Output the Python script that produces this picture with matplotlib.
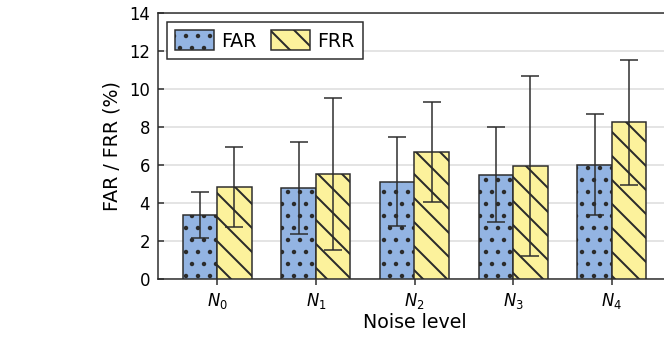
import numpy as np
import matplotlib
matplotlib.use('Agg')
import matplotlib.pyplot as plt

plt.rcParams['font.family'] = ['DejaVu Sans']
plt.rcParams['hatch.linewidth'] = 2.0

# data
levels = ['$N_0$', '$N_1$', '$N_2$', '$N_3$', '$N_4$']
far_mean = [3.37, 4.77, 5.12, 5.49, 6.02]
far_err = [1.21, 2.42, 2.35, 2.50, 2.67]
frr_mean = [4.86, 5.53, 6.67, 5.95, 8.26]
frr_err = [2.10, 4.00, 2.62, 4.72, 3.29]

far_color = '#93b4e2'
frr_color = '#fcf29c'
edge = '#2b2b2b'

fig = plt.figure(figsize=(664 / 72, 342 / 72), dpi=72)
ax = fig.add_axes([158 / 664, 1 - 279 / 342, (671 - 158) / 664, (279 - 13) / 342])

x = np.arange(len(levels))
w = 0.35
err_kw = dict(ecolor=edge, elinewidth=1.5, capsize=9, capthick=1.5)
ax.bar(x - w / 2, far_mean, w, yerr=far_err, color=far_color, edgecolor=edge,
       linewidth=1.5, hatch='.', label='FAR', error_kw=err_kw, zorder=3)
ax.bar(x + w / 2, frr_mean, w, yerr=frr_err, color=frr_color, edgecolor=edge,
       linewidth=1.5, hatch='\\', label='FRR', error_kw=err_kw, zorder=3)

ax.set_xlim(-0.6, 4.6)
ax.set_ylim(0, 14)
ax.set_yticks(np.arange(0, 15, 2))
ax.set_xticks(x)
ax.set_xticklabels(levels)
ax.yaxis.grid(True, color='#dcdcdc', linewidth=1.5, zorder=0)
ax.set_axisbelow(True)

for s in ['left', 'bottom', 'top']:
    ax.spines[s].set_color(edge)
    ax.spines[s].set_linewidth(1.5)
ax.spines['right'].set_visible(False)

ax.tick_params(axis='y', direction='in', length=6, width=1.5, color=edge,
               labelsize=16.5, pad=8)
ax.tick_params(axis='x', direction='out', length=6, width=1.5, color=edge,
               labelsize=16.5, pad=6)

ax.set_ylabel('FAR / FRR (%)', fontsize=19, labelpad=8)
ax.set_xlabel('Noise level', fontsize=19, labelpad=2)

leg = ax.legend(loc='upper left', ncol=2, fontsize=19, fancybox=False,
                framealpha=1, edgecolor=edge, borderaxespad=0.47,
                handlelength=2.05, handleheight=1.2, handletextpad=0.37,
                columnspacing=0.74, borderpad=0.45)
leg.get_frame().set_linewidth(1.5)

fig.savefig('out.png', dpi=72)
